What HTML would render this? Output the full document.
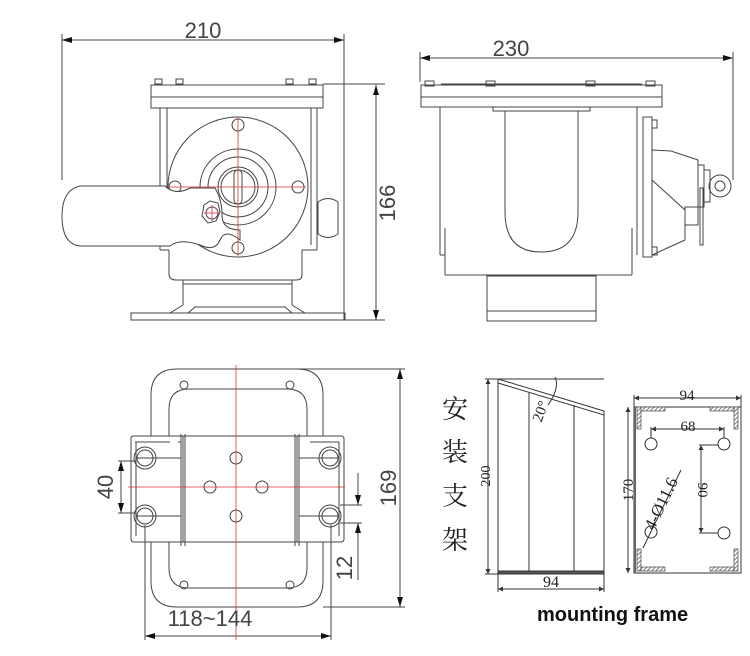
<!DOCTYPE html>
<html><head><meta charset="utf-8"><style>
html,body{margin:0;padding:0;background:#fff}
svg{display:block}
text{font-family:"Liberation Sans","Noto Sans CJK SC",sans-serif;fill:#444}
</style></head><body>
<svg width="750" height="656" viewBox="0 0 750 656" xmlns="http://www.w3.org/2000/svg">
<defs>
<marker id="a" viewBox="0 0 10 6" refX="10" refY="3" markerWidth="10" markerHeight="6" orient="auto-start-reverse"><path d="M0,0L10,3L0,6z" fill="#111"/></marker>
<marker id="s" viewBox="0 0 6 6" refX="6" refY="3" markerWidth="5" markerHeight="5" orient="auto-start-reverse"><path d="M0,0L6,3L0,6z" fill="#333"/></marker>
<pattern id="h" width="3" height="3" patternUnits="userSpaceOnUse" patternTransform="rotate(45)"><rect width="3" height="3" fill="#fff"/><line x1="0" y1="0" x2="0" y2="3" stroke="#555" stroke-width="1.5"/></pattern>
</defs>
<g fill="none" stroke="#444" stroke-width="1">
<line x1="62" y1="40" x2="344" y2="40" marker-start="url(#a)" marker-end="url(#a)"/>
<line x1="62" y1="34" x2="62" y2="180"/>
<line x1="344" y1="34" x2="344" y2="320"/>
<rect x="151" y="85" width="172" height="23"/>
<line x1="151" y1="97" x2="323" y2="97"/>
<line x1="165" y1="85" x2="310" y2="85"/>
<rect x="155" y="79" width="7" height="5"/><rect x="176" y="79" width="7" height="5"/><rect x="286" y="79" width="7" height="5"/><rect x="309" y="79" width="7" height="5"/>
<line x1="323" y1="84" x2="385" y2="84"/>
<path d="M160 108V250M317 108V250M167 108V245M311 108V245"/>
<path d="M160 250H169M302 250H317"/>
<circle cx="238" cy="187" r="70"/>
<circle cx="238" cy="187" r="38"/>
<circle cx="238" cy="187" r="30"/>
<circle cx="238" cy="187" r="20"/>
<circle cx="238" cy="187" r="17"/>
<rect x="234" y="170" width="8" height="34" rx="4"/>
<circle cx="238" cy="125" r="6"/><circle cx="238" cy="248" r="6"/><circle cx="175" cy="187" r="6"/><circle cx="298" cy="187" r="6"/>
<path d="M80 186H165Q175 196 190 188H215Q222 200 222 215Q222 230 240 230L240 240Q225 228 220 240Q215 252 200 245Q180 238 170 246H80Q62 244 62 216Q62 190 80 186z" fill="#fff"/>
<polygon points="204,205 210,201 218,203 220,212 216,221 208,223 202,216" />
<circle cx="212" cy="213" r="6"/>
<path d="M169 250V275Q170 280 176 280H296Q302 280 302 275V250"/>
<path d="M183 280V305L170 313M292 280V305L305 313M183 284H292"/>
<path d="M131 313H345V320H131z"/>
<path d="M188 313L195 307H285L292 313"/>
<path d="M318 202Q328 195 338 202V234Q328 241 318 234z"/>
<line x1="376" y1="85" x2="376" y2="320" marker-start="url(#a)" marker-end="url(#a)"/>
<line x1="345" y1="320" x2="385" y2="320"/>
</g>
<g stroke="#d33" stroke-width="0.8" fill="none">
<line x1="238" y1="118" x2="238" y2="256"/><line x1="168" y1="187" x2="306" y2="187"/>
<line x1="204" y1="213" x2="220" y2="213"/><line x1="212" y1="205" x2="212" y2="221"/>
</g>
<text x="203" y="38" font-size="22" text-anchor="middle">210</text>
<text transform="translate(395,203) rotate(-90)" font-size="22" text-anchor="middle">166</text>

<g fill="none" stroke="#444" stroke-width="1">
<line x1="420" y1="58" x2="733" y2="58" marker-start="url(#a)" marker-end="url(#a)"/>
<line x1="420" y1="52" x2="420" y2="82"/>
<line x1="733" y1="52" x2="733" y2="180"/>
<rect x="421" y="85" width="241" height="22"/>
<line x1="421" y1="97" x2="662" y2="97"/>
<line x1="441" y1="84" x2="642" y2="84"/>
<rect x="425" y="81" width="9" height="5"/><rect x="486" y="81" width="9" height="5"/><rect x="586" y="81" width="9" height="5"/><rect x="646" y="81" width="9" height="5"/>
<path d="M440 107V255M637 107V255M445 228V257M632 228V257M445 275H632"/>
<path d="M440 255H445"/>
<path d="M445 255V275"/><path d="M632 255V275"/>
<rect x="493" y="107" width="97" height="4"/>
<path d="M505 111V212Q505 252 541 252Q578 252 578 212V111"/>
<rect x="487" y="276" width="109" height="45"/>
<line x1="487" y1="311" x2="596" y2="311"/>
<rect x="643" y="117" width="9" height="140"/>
<rect x="652" y="120" width="5" height="8"/><rect x="652" y="247" width="5" height="8"/>
<path d="M652 150L671 151L698 160V168M652 180L685 210V240L652 255"/>
<rect x="685" y="207" width="13" height="18"/>
<rect x="698" y="165" width="6" height="42"/>
<rect x="704" y="170" width="6" height="32"/>
<rect x="700" y="188" width="3" height="57"/>
<circle cx="720" cy="186" r="11"/><circle cx="720" cy="186" r="5"/>
</g>
<text x="511" y="56" font-size="22" text-anchor="middle">230</text>

<g fill="none" stroke="#444" stroke-width="1">
<path d="M151 436V395Q151 369 177 369H297Q323 369 323 395V436"/>
<path d="M169 436V409Q169 389 189 389H287Q307 389 307 409V436"/>
<path d="M151 542V581Q151 607 177 607H297Q323 607 323 581V542"/>
<path d="M169 542V568Q169 588 189 588H287Q307 588 307 568V542"/>
<circle cx="184" cy="385" r="4"/><circle cx="290" cy="385" r="4"/><circle cx="184" cy="585" r="4"/><circle cx="290" cy="585" r="4"/>
<path d="M131 438Q131 436 134 436H183V542H134Q131 542 131 539z"/>
<path d="M297 436H341Q344 436 344 439V539Q344 542 341 542H297z"/>
<path d="M183 436H297M183 542H297M181 434V546M185 434V546M295 434V546M299 434V546"/>
<path d="M136 442V536M137 458H181M137 516H181M178 442H181"/>
<path d="M339 442V536M299 458H339M299 516H339M135 442H170M310 442H339"/>
<circle cx="145" cy="458" r="11"/><circle cx="145" cy="458" r="8"/>
<circle cx="145" cy="516" r="11"/><circle cx="145" cy="516" r="8"/>
<circle cx="330" cy="458" r="11"/><circle cx="330" cy="458" r="8"/>
<circle cx="330" cy="516" r="11"/><circle cx="330" cy="516" r="8"/>
<circle cx="236" cy="458" r="6"/><circle cx="236" cy="516" r="6"/><circle cx="210" cy="487" r="6"/><circle cx="262" cy="487" r="6"/>
<line x1="121" y1="461" x2="121" y2="513" marker-start="url(#a)" marker-end="url(#a)"/>
<path d="M118 461H136M118 513H136"/>
<line x1="400" y1="369" x2="400" y2="607" marker-start="url(#a)" marker-end="url(#a)"/>
<path d="M297 369H405M323 607H405"/>
<path d="M340 505H362M340 523H362"/>
<line x1="358" y1="473" x2="358" y2="505" marker-end="url(#a)"/>
<line x1="358" y1="540" x2="358" y2="523" marker-end="url(#a)"/>
<line x1="358" y1="540" x2="358" y2="580"/>
<line x1="145" y1="636" x2="331" y2="636" marker-start="url(#a)" marker-end="url(#a)"/>
<path d="M145 525V640M331 525V640"/>
</g>
<g stroke="#d33" stroke-width="0.8"><line x1="236" y1="365" x2="236" y2="640"/><line x1="128" y1="487" x2="345" y2="487"/></g>
<text transform="translate(113,487) rotate(-90)" font-size="22" text-anchor="middle">40</text>
<text transform="translate(396,488) rotate(-90)" font-size="22" text-anchor="middle">169</text>
<text transform="translate(352,568) rotate(-90)" font-size="22" text-anchor="middle">12</text>
<text x="210" y="626" font-size="22" text-anchor="middle">118~144</text>

<g style="font-family:'Liberation Serif','Noto Serif CJK SC',serif">
<text x="455" y="418" font-size="26" text-anchor="middle" style="fill:#222;font-family:'Liberation Serif','Noto Serif CJK SC',serif">安</text>
<text x="455" y="461" font-size="26" text-anchor="middle" style="fill:#222;font-family:'Liberation Serif','Noto Serif CJK SC',serif">装</text>
<text x="455" y="505" font-size="26" text-anchor="middle" style="fill:#222;font-family:'Liberation Serif','Noto Serif CJK SC',serif">支</text>
<text x="455" y="549" font-size="26" text-anchor="middle" style="fill:#222;font-family:'Liberation Serif','Noto Serif CJK SC',serif">架</text>
</g>
<g fill="none" stroke="#333" stroke-width="1">
<line x1="488" y1="379" x2="488" y2="574" marker-start="url(#s)" marker-end="url(#s)"/>
<path d="M485 379H604M485 574H498"/>
<path d="M498 379V574M604 413V574"/>
<path d="M498 379L604 411L604 415L498 383z"/>
<path d="M529 392V572M574 405V572"/>
<rect x="498" y="571" width="106" height="3" fill="#555"/>
<path d="M555 377Q560 388 548 405"/>
<line x1="498" y1="589" x2="604" y2="589" marker-start="url(#s)" marker-end="url(#s)"/>
<path d="M498 574V592M604 574V592"/>
<rect x="634" y="407" width="107" height="166"/>
<line x1="635" y1="407" x2="635" y2="573" stroke-width="2" stroke="#666"/>
<line x1="634" y1="398" x2="741" y2="398" marker-start="url(#s)" marker-end="url(#s)"/>
<path d="M634 395V407M741 395V407"/>
<line x1="628" y1="407" x2="628" y2="573" marker-start="url(#s)" marker-end="url(#s)"/>
<circle cx="651" cy="444" r="6"/><circle cx="724" cy="444" r="6"/><circle cx="724" cy="533" r="6"/><circle cx="651" cy="532" r="6"/>
<line x1="651" y1="429" x2="724" y2="429" marker-start="url(#s)" marker-end="url(#s)"/>
<path d="M651 427V438M724 427V438"/>
<line x1="701" y1="445" x2="701" y2="533" marker-start="url(#s)" marker-end="url(#s)"/>
<path d="M699 445H718M699 533H718"/>
<line x1="643" y1="548" x2="681" y2="470"/>
</g>
<g fill="url(#h)" stroke="#444" stroke-width="0.7">
<rect x="637" y="407" width="4" height="22"/><rect x="641" y="407" width="24" height="4"/>
<rect x="734" y="407" width="4" height="22"/><rect x="710" y="407" width="24" height="4"/>
<rect x="637" y="549" width="4" height="22"/><rect x="641" y="567" width="24" height="4"/>
<rect x="734" y="549" width="4" height="22"/><rect x="710" y="567" width="24" height="4"/>
</g>
<text transform="translate(490,476) rotate(-90)" font-size="14" text-anchor="middle" style="font-family:'Liberation Serif',serif;fill:#222">200</text>
<text transform="translate(545,413) rotate(-70)" font-size="15" text-anchor="middle" style="font-family:'Liberation Serif',serif;fill:#222">20°</text>
<text x="551" y="587" font-size="16" text-anchor="middle" style="font-family:'Liberation Serif',serif;fill:#222">94</text>
<text x="687" y="400" font-size="15" text-anchor="middle" style="font-family:'Liberation Serif',serif;fill:#222">94</text>
<text x="688" y="431" font-size="15" text-anchor="middle" style="font-family:'Liberation Serif',serif;fill:#222">68</text>
<text transform="translate(633,490) rotate(-90)" font-size="15" text-anchor="middle" style="font-family:'Liberation Serif',serif;fill:#222">170</text>
<text transform="translate(698,490) rotate(90)" font-size="15" text-anchor="middle" style="font-family:'Liberation Serif',serif;fill:#222">90</text>
<text transform="translate(666,506) rotate(-64)" font-size="17" text-anchor="middle" style="font-family:'Liberation Serif',serif;fill:#222">4-Ø11.6</text>
<text x="537" y="621" font-size="20" font-weight="bold" style="fill:#111">mounting frame</text>
</svg>
</body></html>
